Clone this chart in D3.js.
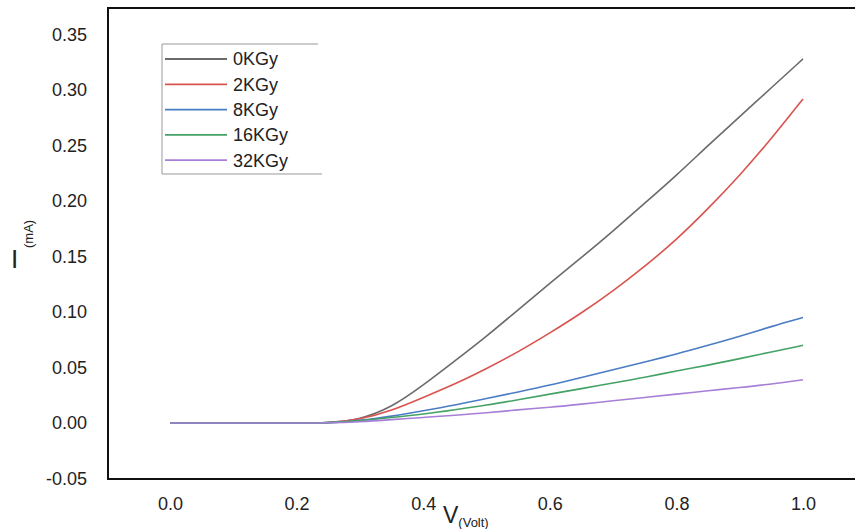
<!DOCTYPE html>
<html>
<head>
<meta charset="utf-8">
<script src="https://cdn.jsdelivr.net/npm/d3@7"></script>
<style>
  body { margin: 0; background: #fff; }
  svg text { font-family: "Liberation Sans", Arial, sans-serif; fill: #222; }
</style>
</head>
<body>
<svg id="chart" width="855" height="529"></svg>
<script>
// voltage samples (V)
var volts = [0, 0.05, 0.10, 0.15, 0.20, 0.25, 0.30, 0.35, 0.40, 0.45, 0.50, 0.55, 0.60, 0.65, 0.70, 0.75, 0.80, 0.85, 0.90, 0.95, 1.00];

// current (mA) per dose
var dose0  = [0, 0, 0, 0, 0, 0, 0.003, 0.014, 0.034, 0.056, 0.078, 0.102, 0.126, 0.149, 0.173, 0.198, 0.223, 0.250, 0.276, 0.302, 0.328];
var dose2  = [0, 0, 0, 0, 0, 0, 0.003, 0.011, 0.023, 0.035, 0.049, 0.064, 0.081, 0.099, 0.119, 0.141, 0.165, 0.193, 0.223, 0.256, 0.292];
var dose8  = [0, 0, 0, 0, 0, 0, 0.002, 0.006, 0.011, 0.016, 0.022, 0.028, 0.034, 0.041, 0.048, 0.055, 0.062, 0.070, 0.078, 0.087, 0.095];
var dose16 = [0, 0, 0, 0, 0, 0, 0.002, 0.005, 0.008, 0.012, 0.016, 0.021, 0.026, 0.031, 0.036, 0.041, 0.047, 0.052, 0.058, 0.064, 0.070];
var dose32 = [0, 0, 0, 0, 0, 0, 0.001, 0.003, 0.005, 0.007, 0.009, 0.012, 0.014, 0.017, 0.020, 0.023, 0.026, 0.029, 0.032, 0.035, 0.039];

var seriesNames = ['0KGy', '2KGy', '8KGy', '16KGy', '32KGy'];
var seriesValues = [dose0, dose2, dose8, dose16, dose32];
var seriesColors = ['#6b6b6b', '#d9534f', '#4a7cc4', '#45a266', '#a77fd8'];

var xTicks = [0, 0.2, 0.4, 0.6, 0.8, 1.0];
var yTicks = [-0.05, 0, 0.05, 0.10, 0.15, 0.20, 0.25, 0.30, 0.35];

var svg = d3.select('#chart'),
    frame = { left: 108, top: 8, bottom: 479, right: 855 };

var x = d3.scaleLinear().domain([0, 1]).range([170, 803]);
var y = d3.scaleLinear().domain([-0.05, 0.35]).range([478.5, 34.5]);

// plain hyphen for negatives, as in the original figure
var fmtY = function(d){ return d.toFixed(2); },
    fmtX = function(d){ return d.toFixed(1); };

// axes (labels only, no tick marks)
var gy = svg.append('g')
    .attr('transform', 'translate(' + frame.left + ',0)')
    .call(d3.axisLeft(y).tickValues(yTicks).tickSize(0).tickPadding(21).tickFormat(fmtY));
gy.select('.domain').remove();
gy.selectAll('text').style('font-size', '18px').attr('fill', '#222');

var gx = svg.append('g')
    .attr('transform', 'translate(0,' + frame.bottom + ')')
    .call(d3.axisBottom(x).tickValues(xTicks).tickSize(0).tickPadding(18).tickFormat(fmtX));
gx.select('.domain').remove();
gx.selectAll('text').style('font-size', '18px').attr('fill', '#222');

// frame: left, top, bottom
svg.append('path')
    .attr('d', 'M' + frame.right + ',' + frame.top + 'H' + frame.left + 'V' + frame.bottom + 'H' + frame.right)
    .attr('fill', 'none')
    .attr('stroke', '#111')
    .attr('stroke-width', 2);

// curves
var line = d3.line()
    .x(function(d, i){ return x(volts[i]); })
    .y(function(d){ return y(d); })
    .curve(d3.curveBasis);

svg.append('g').selectAll('path.curve')
    .data(seriesValues)
    .join('path')
    .attr('class', 'curve')
    .attr('d', line)
    .attr('fill', 'none')
    .attr('stroke', function(d, i){ return seriesColors[i]; })
    .attr('stroke-width', 1.6);

// legend
var legend = svg.append('g').attr('transform', 'translate(162,44)');
legend.append('path')
    .attr('d', 'M156,0H0V130H160')
    .attr('fill', 'none')
    .attr('stroke', '#999')
    .attr('stroke-width', 1);

var items = legend.selectAll('g.item')
    .data(seriesNames)
    .join('g')
    .attr('class', 'item')
    .attr('transform', function(d, i){ return 'translate(0,' + (15 + i * 25.3) + ')'; });

items.append('line')
    .attr('x1', 3).attr('x2', 65)
    .attr('stroke', function(d, i){ return seriesColors[i]; })
    .attr('stroke-width', 1.8);

items.append('text')
    .attr('x', 71)
    .attr('dy', '0.36em')
    .style('font-size', '18px')
    .text(function(d){ return d; });

// axis titles
var xt = svg.append('text')
    .attr('x', 443)
    .attr('y', 523)
    .style('font-size', '23px');
xt.append('tspan').text('V');
xt.append('tspan').attr('dy', 4).style('font-size', '13px').text('(Volt)');

svg.append('text')
    .attr('x', 11)
    .attr('y', 268)
    .style('font-size', '26px')
    .text('I');
svg.append('text')
    .attr('transform', 'translate(33,248) rotate(-90)')
    .style('font-size', '13px')
    .text('(mA)');
</script>
</body>
</html>
